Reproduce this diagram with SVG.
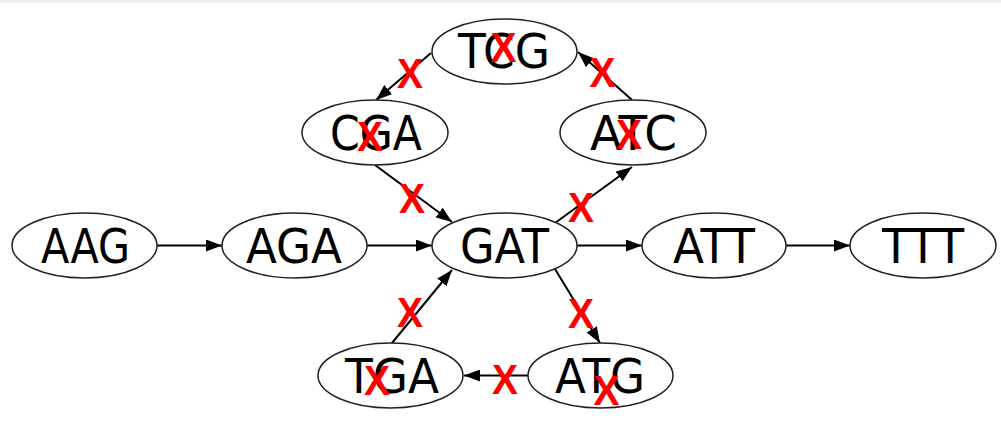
<svg xmlns="http://www.w3.org/2000/svg" width="1001" height="428" viewBox="0 0 1001 428">
<defs>
<style>
.node ellipse{fill:#fff;stroke:#222;stroke-width:1.5}
.node text{font-family:"DejaVu Sans",sans-serif;font-size:48px;fill:#000;text-anchor:middle}
.edges line{stroke:#000;stroke-width:2;marker-end:url(#ah)}
.x{font-family:"Liberation Sans",Arial,sans-serif;font-weight:bold;font-size:42px;fill:#ff0000;text-anchor:middle}
</style>
<marker id="ah" markerUnits="userSpaceOnUse" markerWidth="16" markerHeight="12" refX="16" refY="6" orient="auto">
<path d="M0,0 L16,6 L0,12 z" fill="#000"/>
</marker>
</defs>
<rect x="0" y="0" width="1001" height="428" fill="#fff"/>
<rect x="0" y="0" width="1001" height="3" fill="#f0f0f0"/>
<g class="edges">
<line x1="157" y1="245.5" x2="222" y2="245.5"/>
<line x1="367" y1="245.5" x2="432" y2="245.5"/>
<line x1="577" y1="245.5" x2="642" y2="245.5"/>
<line x1="786" y1="245.5" x2="850" y2="245.5"/>
<line x1="431" y1="53" x2="376" y2="100"/>
<line x1="632" y1="100" x2="578" y2="52"/>
<line x1="375" y1="165" x2="452" y2="222"/>
<line x1="555" y1="223" x2="632" y2="167"/>
<line x1="392" y1="343" x2="452" y2="270"/>
<line x1="555" y1="269" x2="600" y2="343"/>
<line x1="528" y1="375.5" x2="464" y2="375.5"/>
</g>
<g id="AAG" class="node"><ellipse cx="84.5" cy="245.5" rx="72.5" ry="32.5"/><text x="85.5" y="263" textLength="89" lengthAdjust="spacingAndGlyphs">AAG</text></g>
<g id="AGA" class="node"><ellipse cx="294.5" cy="245.5" rx="72.5" ry="32.5"/><text x="294" y="263" textLength="96" lengthAdjust="spacingAndGlyphs">AGA</text></g>
<g id="GAT" class="node"><ellipse cx="504.5" cy="245.5" rx="72.5" ry="32.5"/><text x="504.5" y="263" textLength="89" lengthAdjust="spacingAndGlyphs">GAT</text></g>
<g id="ATT" class="node"><ellipse cx="714" cy="245.5" rx="72" ry="32.5"/><text x="714" y="263" textLength="82" lengthAdjust="spacingAndGlyphs">ATT</text></g>
<g id="TTT" class="node"><ellipse cx="923" cy="245.5" rx="73" ry="32.5"/><text x="923" y="263" textLength="82" lengthAdjust="spacingAndGlyphs">TTT</text></g>
<g id="TCG" class="node"><ellipse cx="504.5" cy="51.5" rx="72.5" ry="32.5"/><text x="504" y="68" textLength="92" lengthAdjust="spacingAndGlyphs">TCG</text></g>
<g id="CGA" class="node"><ellipse cx="375" cy="132.5" rx="73" ry="32.5"/><text x="376" y="150" textLength="92" lengthAdjust="spacingAndGlyphs">CGA</text></g>
<g id="ATC" class="node"><ellipse cx="633" cy="132.5" rx="73" ry="32.5"/><text x="633.5" y="150" textLength="87" lengthAdjust="spacingAndGlyphs">ATC</text></g>
<g id="TGA" class="node"><ellipse cx="390.5" cy="375.5" rx="72.5" ry="32.5"/><text x="392" y="393" textLength="94" lengthAdjust="spacingAndGlyphs">TGA</text></g>
<g id="ATG" class="node"><ellipse cx="600.5" cy="375.5" rx="72.5" ry="32.5"/><text x="600" y="393" textLength="90" lengthAdjust="spacingAndGlyphs">ATG</text></g>
<g id="marks">
<text class="x" x="503.5" y="62" textLength="26" lengthAdjust="spacingAndGlyphs">X</text>
<text class="x" x="410" y="88" textLength="26" lengthAdjust="spacingAndGlyphs">X</text>
<text class="x" x="602.5" y="87" textLength="26" lengthAdjust="spacingAndGlyphs">X</text>
<text class="x" x="370" y="151" textLength="26" lengthAdjust="spacingAndGlyphs">X</text>
<text class="x" x="629" y="149" textLength="26" lengthAdjust="spacingAndGlyphs">X</text>
<text class="x" x="412" y="213" textLength="26" lengthAdjust="spacingAndGlyphs">X</text>
<text class="x" x="581" y="222" textLength="26" lengthAdjust="spacingAndGlyphs">X</text>
<text class="x" x="410" y="327" textLength="26" lengthAdjust="spacingAndGlyphs">X</text>
<text class="x" x="581" y="328" textLength="26" lengthAdjust="spacingAndGlyphs">X</text>
<text class="x" x="377" y="395" textLength="26" lengthAdjust="spacingAndGlyphs">X</text>
<text class="x" x="505" y="394" textLength="26" lengthAdjust="spacingAndGlyphs">X</text>
<text class="x" x="606.5" y="405" textLength="26" lengthAdjust="spacingAndGlyphs">X</text>
</g>
</svg>
